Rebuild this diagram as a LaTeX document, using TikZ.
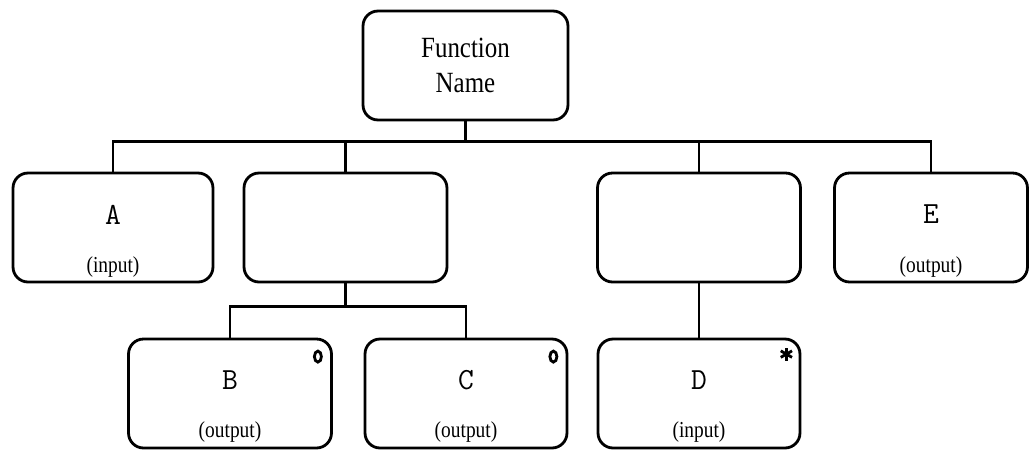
\documentclass[tikz,border=0pt]{standalone}
\usepackage{fontspec}
\usepackage{tikz}
\usetikzlibrary{positioning}
\newfontfamily\condserif[FakeStretch=0.85]{Liberation Serif}

\begin{document}
\begin{tikzpicture}[
    x=0.02cm, y=-0.02cm,
    box/.style={draw, rectangle, rounded corners=0.3cm, line width=1.6pt, minimum width=4.06cm, minimum height=2.18cm, inner sep=0pt},
    title/.style={align=center, font=\condserif\fontsize{16.7}{20}\selectfont},
    letter/.style={font=\ttfamily\fontsize{17.5}{20}\selectfont},
    note/.style={font=\condserif\fontsize{13}{15}\selectfont},
    link/.style={line width=1.5pt},
    hollow/.style={line width=1.6pt},
    spoke/.style={line width=1.6pt}
  ]
    \useasboundingbox (0,0) rectangle (1029,453);

    % Function box
    \node[box, title, minimum width=4.1cm] (fname) at (465.5,65.5) {Function\\Name};

    % Second row
    \node[box, minimum width=4.0cm] (boxA) at (113,227.5) {};
    \node[box] (boxP) at (345.5,227.5) {};
    \node[box] (boxQ) at (699,227.5) {};
    \node[box, minimum width=3.86cm] (boxE) at (931,227.5) {};

    \node[letter] (txtA) at ([yshift=0.26cm]boxA.center) {A};
    \node[note] (noteA) at ([yshift=-0.8cm]boxA.center) {(input)};
    \node[letter] (txtE) at ([yshift=0.26cm]boxE.center) {E};
    \node[note] (noteE) at ([yshift=-0.8cm]boxE.center) {(output)};

    \draw[link] (fname.south) -- ++(0,20) coordinate (bus);
    \draw[link] (boxA.north) |- (bus);
    \draw[link] (boxE.north) |- (bus);
    \draw[link] (boxP.north) -- (boxP.north |- bus);
    \draw[link] (boxQ.north) -- (boxQ.north |- bus);

    % Third row
    \node[box] (boxB) at (230,393.5) {};
    \node[box, minimum width=4.04cm] (boxC) at (466,393.5) {};
    \node[box, minimum width=4.04cm] (boxD) at (699,393.5) {};

    \node[letter] (txtB) at ([yshift=0.27cm]boxB.center) {B};
    \node[note] (noteB) at ([yshift=-0.77cm]boxB.center) {(output)};
    \node[letter] (txtC) at ([yshift=0.27cm]boxC.center) {C};
    \node[note] (noteC) at ([yshift=-0.77cm]boxC.center) {(output)};
    \node[letter] (txtD) at ([yshift=0.27cm]boxD.center) {D};
    \node[note] (noteD) at ([yshift=-0.77cm]boxD.center) {(input)};

    \draw[link] (boxP.south) -- ++(0,23) coordinate (subbus);
    \draw[link] (boxB.north) |- (subbus) -| (boxC.north);
    \draw[link] (boxQ.south) -- (boxD.north);

    % Markers
    \draw[hollow] ([xshift=-0.3cm,yshift=-0.38cm]boxB.north east) ellipse [x radius=0.07cm, y radius=0.11cm];
    \draw[hollow] ([xshift=-0.3cm,yshift=-0.38cm]boxC.north east) ellipse [x radius=0.07cm, y radius=0.11cm];
    \coordinate (dstar) at ([xshift=-0.3cm,yshift=-0.33cm]boxD.north east);
    \foreach \ang in {90,30,150}
      \draw[spoke] (dstar) ++(\ang:6.5) -- ++(\ang+180:13);
  \end{tikzpicture}
\end{document}
